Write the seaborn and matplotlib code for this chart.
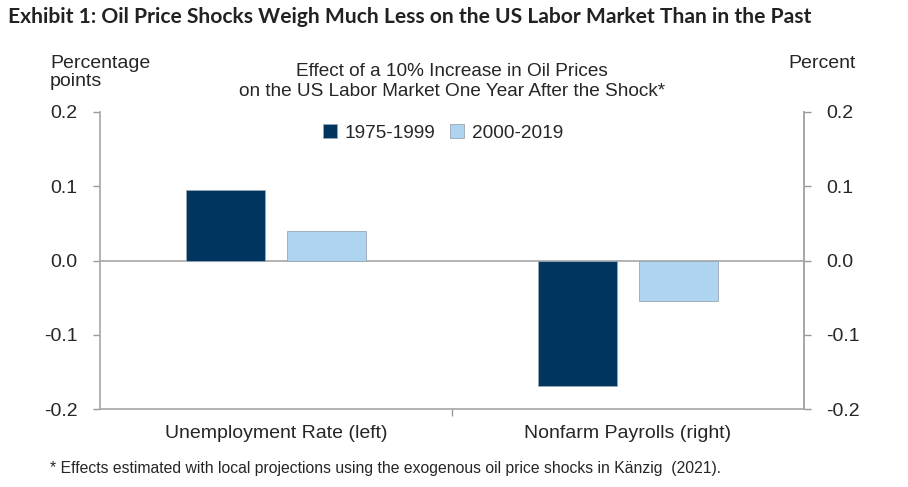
import matplotlib
matplotlib.use("Agg")
import matplotlib.pyplot as plt
import seaborn as sns
import pandas as pd

categories = ["Unemployment Rate (left)", "Nonfarm Payrolls (right)"]
periods = ["1975-1999", "2000-2019"]
values_1975_1999 = [0.095, -0.169]
values_2000_2019 = [0.040, -0.055]
yticks = [-0.2, -0.1, 0.0, 0.1, 0.2]
ytick_labels = ["-0.2", "-0.1", "0.0", "0.1", "0.2"]
colors = ["#003560", "#AED4F0"]

df = pd.DataFrame({
    "category": categories * 2,
    "period": [periods[0]] * 2 + [periods[1]] * 2,
    "value": values_1975_1999 + values_2000_2019,
})

sns.set_theme(style="white")
plt.rcParams["font.family"] = ["Liberation Sans", "DejaVu Sans"]

fig = plt.figure(figsize=(9.08, 4.87), dpi=100)
ax = fig.add_axes([100 / 908, 1 - 409 / 487, 704 / 908, 297 / 487])

sns.barplot(data=df, x="category", y="value", hue="period", palette=colors,
            width=0.574, gap=0.216, ax=ax, edgecolor="#9aa7b4", linewidth=0.6,
            saturation=1, legend=True)

FS = 14
ax.set_ylim(-0.2, 0.2)
ax.set_xlim(-0.5, 1.5)
ax.set_yticks(yticks)
ax.set_yticklabels(ytick_labels, fontsize=FS)
ax.set_xlabel("")
ax.set_ylabel("")
ax.set_xticks([0.5], labels=[""])
ax.tick_params(axis="x", bottom=True, length=5, color="#999999", width=1)
ax.tick_params(axis="y", left=True, length=5, color="#999999", width=1, pad=11)
for i, c in enumerate(categories):
    ax.text(i, -0.2325, c, ha="center", va="center", fontsize=FS, transform=ax.transData)
ax.axhline(0, color="#a6a6a6", lw=1.2, zorder=0)

ax.spines["top"].set_visible(False)
for s in ["left", "right", "bottom"]:
    ax.spines[s].set_visible(True)
    ax.spines[s].set_color("#a6a6a6")
    ax.spines[s].set_linewidth(1.2)

ax2 = ax.twinx()
ax2.set_ylim(-0.2, 0.2)
ax2.set_yticks(yticks)
ax2.set_yticklabels(ytick_labels, fontsize=FS)
ax2.tick_params(axis="y", right=True, length=5, color="#999999", width=1, pad=11)
for s in ["top", "left", "bottom"]:
    ax2.spines[s].set_visible(False)
ax2.spines["right"].set_color("#a6a6a6")
ax2.spines["right"].set_linewidth(1.2)
ax2.grid(False)
ax.grid(False)

leg = ax.legend(loc="center", bbox_to_anchor=(0.487, 1 - (133 - 112) / 297), ncol=2, frameon=False,
                fontsize=13.7, handlelength=0.75, handleheight=0.75, columnspacing=0.75,
                handletextpad=0.4)

fig.text(8 / 908, 1 - 17 / 487, "Exhibit 1: Oil Price Shocks Weigh Much Less on the US Labor Market Than in the Past",
         fontsize=15.1, fontweight="bold", family=["Lato", "DejaVu Sans"], color="#222222", va="center", ha="left")
fig.text(452 / 908, 1 - 81.5 / 487, "Effect of a 10% Increase in Oil Prices\non the US Labor Market One Year After the Shock*",
         fontsize=13.7, ha="center", va="center", linespacing=1.3)
fig.text(50 / 908, 1 - 72.5 / 487, "Percentage\npoints", fontsize=FS, ha="left", va="center", linespacing=1.15)
fig.text(788 / 908, 1 - 63 / 487, "Percent", fontsize=FS, ha="left", va="center")
fig.text(50 / 908, 1 - 469 / 487,
         "* Effects estimated with local projections using the exogenous oil price shocks in Känzig  (2021).",
         fontsize=11.3, ha="left", va="center")

fig.savefig("out.png", dpi=100)
